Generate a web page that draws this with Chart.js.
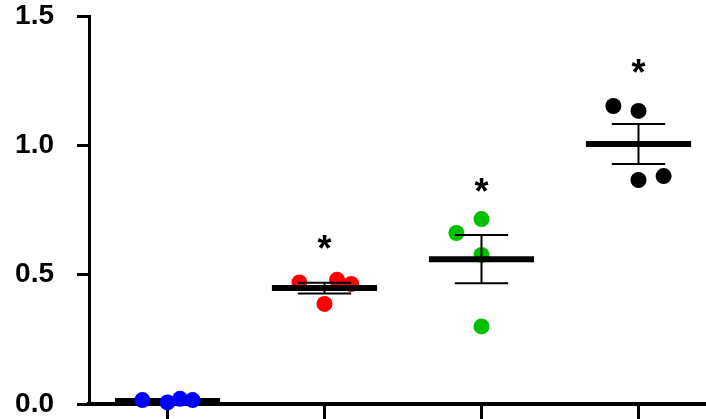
<!DOCTYPE html>
<html>
<head>
<meta charset="utf-8">
<script src="https://cdn.jsdelivr.net/npm/chart.js@4"></script>
<style>
  html, body { margin: 0; padding: 0; background: #fff; }
  #wrap { width: 706px; height: 419px; }
</style>
</head>
<body>
<div id="wrap"><canvas id="chart" width="706" height="419"></canvas></div>
<script>
// groups along the x axis (0..3)
const groupColors = ['#0000FF', '#FF0000', '#00C000', '#000000'];

// individual values per group, and their horizontal jitter (in group units)
const groupValues = [
  [0.015, 0.006, 0.020, 0.015],
  [0.470, 0.480, 0.464, 0.387],
  [0.715, 0.661, 0.576, 0.300],
  [1.152, 1.133, 0.866, 0.881]
];
const groupJitter = [
  [-0.16, 0.00, 0.08, 0.16],
  [-0.16, 0.08, 0.17, 0.00],
  [0.00, -0.16, 0.00, 0.00],
  [-0.16, 0.00, 0.00, 0.16]
];

// mean and SEM per group
const means = [0.012, 0.448, 0.560, 1.005];
const sems = [0.000, 0.021, 0.093, 0.077];

// asterisk heights (null = none)
const stars = [null, 0.63, 0.85, 1.31];

const yTicks = [0, 0.5, 1.0, 1.5];

const meanHalf = 0.335;
const capHalf = 0.17;

function dotData(g) {
  return groupValues[g].map((v, i) => ({ x: g + groupJitter[g][i], y: v }));
}

function meanData(g) {
  return [{ x: g - meanHalf, y: means[g] }, { x: g + meanHalf, y: means[g] }];
}

function errData(g) {
  const hi = means[g] + sems[g];
  const lo = means[g] - sems[g];
  return [
    { x: g - capHalf, y: hi }, { x: g + capHalf, y: hi }, { x: g, y: null },
    { x: g, y: hi }, { x: g, y: lo }, { x: g, y: null },
    { x: g - capHalf, y: lo }, { x: g + capHalf, y: lo }
  ];
}

const datasets = [];
groupValues.forEach((vals, g) => {
  if (sems[g] > 0) {
    datasets.push({
      data: errData(g), showLine: true, spanGaps: false,
      borderColor: '#000', borderWidth: 2, pointRadius: 0,
      order: 1, clip: false
    });
  }
  datasets.push({
    data: meanData(g), showLine: true,
    borderColor: '#000', borderWidth: 6, borderCapStyle: 'butt', pointRadius: 0,
    order: 1, clip: false
  });
  datasets.push({
    data: dotData(g), showLine: false,
    backgroundColor: groupColors[g], borderColor: groupColors[g],
    pointRadius: 8, pointBorderWidth: 0,
    order: g === 0 ? 0 : 2, clip: false
  });
});

const starPlugin = {
  id: 'stars',
  afterDatasetsDraw(chart) {
    const ctx = chart.ctx;
    const xs = chart.scales.x, ys = chart.scales.y;
    ctx.save();
    ctx.fillStyle = '#000';
    ctx.font = 'bold 36px "Liberation Sans", Arial, sans-serif';
    ctx.textAlign = 'center';
    ctx.textBaseline = 'alphabetic';
    stars.forEach((s, g) => {
      if (s === null) return;
      ctx.fillText('*', xs.getPixelForValue(g), ys.getPixelForValue(s) + 20);
    });
    ctx.restore();
  }
};

const bgPlugin = {
  id: 'bg',
  beforeDraw(chart) {
    const ctx = chart.ctx;
    ctx.save();
    ctx.fillStyle = '#fff';
    ctx.fillRect(0, 0, chart.width, chart.height);
    ctx.restore();
  }
};

new Chart('chart', {
  type: 'scatter',
  data: { datasets: datasets },
  plugins: [bgPlugin, starPlugin],
  options: {
    responsive: false,
    animation: false,
    events: [],
    layout: { autoPadding: false, padding: { top: 16, right: 0, left: 0, bottom: 0 } },
    plugins: { legend: { display: false }, tooltip: { enabled: false } },
    scales: {
      x: {
        type: 'linear',
        min: -0.5,
        max: 3.43,
        afterBuildTicks: (scale) => { scale.ticks = [0, 1, 2, 3].map(v => ({ value: v })); },
        afterFit: (scale) => {
          scale.height = 15;
          scale.paddingLeft = 0; scale.paddingRight = 0;
        },
        ticks: { display: false },
        grid: { drawOnChartArea: false, drawTicks: true, tickLength: 15, color: '#000', lineWidth: 3 },
        border: { display: true, color: '#000', width: 4 }
      },
      y: {
        min: 0,
        max: 1.5,
        afterBuildTicks: (scale) => { scale.ticks = yTicks.map(v => ({ value: v })); },
        afterFit: (scale) => {
          scale.width = 89;
          scale.paddingTop = 0; scale.paddingBottom = 0;
        },
        ticks: {
          color: '#000',
          padding: 23,
          font: { family: '"Liberation Sans", Arial, sans-serif', size: 28, weight: 'bold' },
          callback: (v) => Number(v).toFixed(1)
        },
        grid: { drawOnChartArea: false, drawTicks: true, tickLength: 12, color: '#000', lineWidth: 3 },
        border: { display: true, color: '#000', width: 3 }
      }
    }
  }
});
</script>
</body>
</html>
